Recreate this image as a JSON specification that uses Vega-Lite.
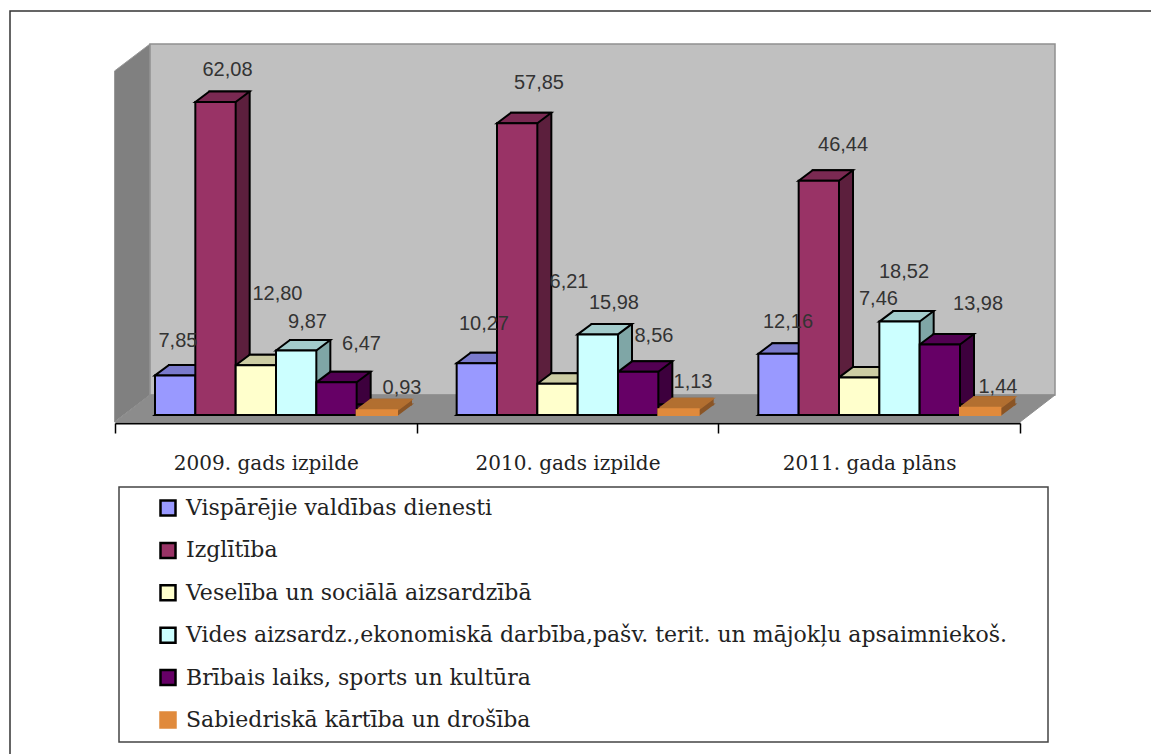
{
"$schema":"https://vega.github.io/schema/vega-lite/v6.json",
"width":905,"height":353,
"autosize":{"type":"none"},
"padding":{"left":115,"top":62,"right":131,"bottom":339},
"background":"white",
"config":{"view":{"stroke":null},"text":{"font":"Liberation Sans","fontSize":20,"color":"#333333","align":"center","baseline":"alphabetic"}},
"datasets":{"bars":[
{"category":"2009. gads izpilde","series":"Vispārējie valdības dienesti","value":7.85,"label":"7,85"},
{"category":"2009. gads izpilde","series":"Izglītība","value":62.08,"label":"62,08"},
{"category":"2009. gads izpilde","series":"Veselība un sociālā aizsardzībā","value":9.87,"label":"9,87"},
{"category":"2009. gads izpilde","series":"Vides aizsardz.,ekonomiskā darbība,pašv. terit. un mājokļu apsaimniekoš.","value":12.80,"label":"12,80"},
{"category":"2009. gads izpilde","series":"Brībais laiks, sports un kultūra","value":6.47,"label":"6,47"},
{"category":"2009. gads izpilde","series":"Sabiedriskā kārtība un drošība","value":0.93,"label":"0,93"},
{"category":"2010. gads izpilde","series":"Vispārējie valdības dienesti","value":10.27,"label":"10,27"},
{"category":"2010. gads izpilde","series":"Izglītība","value":57.85,"label":"57,85"},
{"category":"2010. gads izpilde","series":"Veselība un sociālā aizsardzībā","value":6.21,"label":"6,21"},
{"category":"2010. gads izpilde","series":"Vides aizsardz.,ekonomiskā darbība,pašv. terit. un mājokļu apsaimniekoš.","value":15.98,"label":"15,98"},
{"category":"2010. gads izpilde","series":"Brībais laiks, sports un kultūra","value":8.56,"label":"8,56"},
{"category":"2010. gads izpilde","series":"Sabiedriskā kārtība un drošība","value":1.13,"label":"1,13"},
{"category":"2011. gada plāns","series":"Vispārējie valdības dienesti","value":12.16,"label":"12,16"},
{"category":"2011. gada plāns","series":"Izglītība","value":46.44,"label":"46,44"},
{"category":"2011. gada plāns","series":"Veselība un sociālā aizsardzībā","value":7.46,"label":"7,46"},
{"category":"2011. gada plāns","series":"Vides aizsardz.,ekonomiskā darbība,pašv. terit. un mājokļu apsaimniekoš.","value":18.52,"label":"18,52"},
{"category":"2011. gada plāns","series":"Brībais laiks, sports un kultūra","value":13.98,"label":"13,98"},
{"category":"2011. gada plāns","series":"Sabiedriskā kārtība un drošība","value":1.44,"label":"1,44"}
],"anchor":[{"category":"2010. gads izpilde"}]},
"layer":[
{"data":{"name":"anchor"},
 "encoding":{"x":{"field":"category","type":"nominal","title":null,"scale":{"domain":["2009. gads izpilde","2010. gads izpilde","2011. gada plāns"],"paddingInner":0,"paddingOuter":0},
   "axis":{"offset":8,"tickBand":"extent","domainColor":"#000000","domainWidth":2,"tickColor":"#000000","tickWidth":1.5,"tickSize":10,"labelAngle":0,"labelFont":"DejaVu Serif","labelFontSize":20,"labelColor":"#222222","labelPadding":20,"labelLimit":300,"grid":false}},"y":{"datum":0,"type":"quantitative","axis":null,"scale":{"domain":[0,70],"nice":false}}},
 "layer":[
 {"mark":{"type":"point","size":4,"filled":false,"opacity":1,"stroke":"#333333","strokeWidth":1.5,"shape":"M-557.5,339L-557.5,-404L583.5,-404"}},
 {"mark":{"type":"point","size":4,"filled":true,"opacity":1,"fill":"#808080","stroke":"#999999","strokeWidth":1,"shape":"M-453,-344L-417.5,-371L-417.5,-20L-453,7Z"}},
 {"mark":{"type":"point","size":4,"filled":true,"opacity":1,"fill":"#c0c0c0","stroke":"#909090","strokeWidth":1.5,"shape":"M-417.5,-371L487.5,-371L487.5,-20L-417.5,-20Z"}},
 {"mark":{"type":"point","size":4,"filled":true,"opacity":1,"fill":"#8c8c8c","stroke":"#8c8c8c","strokeWidth":1,"shape":"M-452.5,7L452.5,7L487.5,-20L-417.5,-20Z"}},
 {"mark":{"type":"point","size":4,"filled":true,"opacity":1,"fill":"#ffffff","stroke":"#444444","strokeWidth":1.5,"shape":"M-448.5,72L480.5,72L480.5,327L-448.5,327Z"}}
 ]},
{"data":{"name":"bars"},
 "resolve":{"scale":{"fill":"independent","xOffset":"independent"}},
 "encoding":{
  "x":{"field":"category","type":"nominal","title":null,"scale":{"domain":["2009. gads izpilde","2010. gads izpilde","2011. gada plāns"],"paddingInner":0,"paddingOuter":0},
   "axis":{"offset":8,"tickBand":"extent","domainColor":"#000000","domainWidth":2,"tickColor":"#000000","tickWidth":1.5,"tickSize":10,"labelAngle":0,"labelFont":"DejaVu Serif","labelFontSize":20,"labelColor":"#222222","labelPadding":20,"labelLimit":300,"grid":false}},
  "xOffset":{"field":"series","type":"nominal","scale":{"type":"band","domain":["Vispārējie valdības dienesti","Izglītība","Veselība un sociālā aizsardzībā","Vides aizsardz.,ekonomiskā darbība,pašv. terit. un mājokļu apsaimniekoš.","Brībais laiks, sports un kultūra","Sabiedriskā kārtība un drošība"],"range":[40,282],"paddingInner":0,"paddingOuter":0}},
  "y":{"field":"value","type":"quantitative","axis":null,"scale":{"domain":[0,70],"nice":false}}
 },
 "layer":[
 {"mark":{"type":"bar","yOffset":-10.5,"y2Offset":-10.5,"strokeWidth":2},
  "encoding":{"xOffset":{"field":"series","type":"nominal","scale":{"type":"band","domain":["Vispārējie valdības dienesti","Izglītība","Veselība un sociālā aizsardzībā","Vides aizsardz.,ekonomiskā darbība,pašv. terit. un mājokļu apsaimniekoš.","Brībais laiks, sports un kultūra","Sabiedriskā kārtība un drošība"],"range":[54,296],"paddingInner":0,"paddingOuter":0}},
   "fill":{"field":"series","type":"nominal","legend":null,"scale":{"domain":["Vispārējie valdības dienesti","Izglītība","Veselība un sociālā aizsardzībā","Vides aizsardz.,ekonomiskā darbība,pašv. terit. un mājokļu apsaimniekoš.","Brībais laiks, sports un kultūra","Sabiedriskā kārtība un drošība"],"range":["#5c5c99","#5c1f3d","#99997a","#7fa6a6","#3d003d","#8a5526"]}},
   "stroke":{"condition":{"test":"datum.label=='0,93'||datum.label=='1,13'||datum.label=='1,44'","value":"#8a5526"},"value":"#000000"}}},
 {"mark":{"type":"point","size":4,"filled":true,"opacity":1,"strokeWidth":2,"shape":"M-20.15,0L-6.15,-10.5L34.15,-10.5L20.15,0Z"},
  "encoding":{"y":{"datum":0,"type":"quantitative"},"fill":{"field":"series","type":"nominal","legend":null,"scale":{"domain":["Vispārējie valdības dienesti","Izglītība","Veselība un sociālā aizsardzībā","Vides aizsardz.,ekonomiskā darbība,pašv. terit. un mājokļu apsaimniekoš.","Brībais laiks, sports un kultūra","Sabiedriskā kārtība un drošība"],"range":["#5c5c99","#5c1f3d","#99997a","#7fa6a6","#3d003d","#8a5526"]}},
   "stroke":{"condition":{"test":"datum.label=='0,93'||datum.label=='1,13'||datum.label=='1,44'","value":"#8a5526"},"value":"#000000"}}},
 {"mark":{"type":"point","size":4,"filled":true,"opacity":1,"strokeWidth":2,"shape":"M-20.15,0L-6.15,-10.5L34.15,-10.5L20.15,0Z"},
  "encoding":{"fill":{"field":"series","type":"nominal","legend":null,"scale":{"domain":["Vispārējie valdības dienesti","Izglītība","Veselība un sociālā aizsardzībā","Vides aizsardz.,ekonomiskā darbība,pašv. terit. un mājokļu apsaimniekoš.","Brībais laiks, sports un kultūra","Sabiedriskā kārtība un drošība"],"range":["#7a7acc","#7a2952","#cccca3","#a3cccc","#520052","#b26f30"]}},
   "stroke":{"condition":{"test":"datum.label=='0,93'||datum.label=='1,13'||datum.label=='1,44'","value":"#b26f30"},"value":"#000000"}}},
 {"mark":{"type":"bar","strokeWidth":2},
  "encoding":{"fill":{"field":"series","type":"nominal","scale":{"domain":["Vispārējie valdības dienesti","Izglītība","Veselība un sociālā aizsardzībā","Vides aizsardz.,ekonomiskā darbība,pašv. terit. un mājokļu apsaimniekoš.","Brībais laiks, sports un kultūra","Sabiedriskā kārtība un drošība"],"range":["#9999ff","#993366","#ffffcc","#ccffff","#660066","#e08a3c"]},
   "legend":{"title":null,"orient":"none","legendX":42,"legendY":435,"padding":0,"symbolType":"square","symbolSize":225,"symbolStrokeWidth":2.5,"symbolStrokeColor":"#000000","labelFont":"DejaVu Serif","labelFontSize":22,"labelColor":"#222222","labelLimit":1000,"labelOffset":7,"rowPadding":16.4,
    "encode":{"symbols":{"update":{"stroke":{"signal":"datum.label=='Sabiedriskā kārtība un drošība'?'#e08a3c':'#000000'"},"opacity":{"value":1}}}}}},
   "stroke":{"condition":{"test":"datum.label=='0,93'||datum.label=='1,13'||datum.label=='1,44'","value":"#e08a3c"},"value":"#000000"}}},
 {"encoding":{"text":{"field":"label"}},
  "layer":[
  {"transform":[{"filter":"datum.label=='7,85'"}],"mark":{"type":"text","dx":2.8,"dy":-28.4}},
  {"transform":[{"filter":"datum.label=='62,08'"}],"mark":{"type":"text","dx":12,"dy":-25.9}},
  {"transform":[{"filter":"datum.label=='9,87'"}],"mark":{"type":"text","dx":51.7,"dy":-37.2}},
  {"transform":[{"filter":"datum.label=='12,80'"}],"mark":{"type":"text","dx":-18.7,"dy":-50.4}},
  {"transform":[{"filter":"datum.label=='6,47'"}],"mark":{"type":"text","dx":25,"dy":-32.4}},
  {"transform":[{"filter":"datum.label=='0,93'"}],"mark":{"type":"text","dx":25.2,"dy":-16.3}},
  {"transform":[{"filter":"datum.label=='10,27'"}],"mark":{"type":"text","dx":7.1,"dy":-33.2}},
  {"transform":[{"filter":"datum.label=='57,85'"}],"mark":{"type":"text","dx":21.8,"dy":-34.3}},
  {"transform":[{"filter":"datum.label=='6,21'"}],"mark":{"type":"text","dx":11.5,"dy":-95.7}},
  {"transform":[{"filter":"datum.label=='15,98'"}],"mark":{"type":"text","dx":16.1,"dy":-25.4}},
  {"transform":[{"filter":"datum.label=='8,56'"}],"mark":{"type":"text","dx":15.8,"dy":-29.8}},
  {"transform":[{"filter":"datum.label=='1,13'"}],"mark":{"type":"text","dx":14.5,"dy":-21.3}},
  {"transform":[{"filter":"datum.label=='12,16'"}],"mark":{"type":"text","dx":9.5,"dy":-25.7}},
  {"transform":[{"filter":"datum.label=='46,44'"}],"mark":{"type":"text","dx":24.2,"dy":-29.8}},
  {"transform":[{"filter":"datum.label=='7,46'"}],"mark":{"type":"text","dx":19.3,"dy":-72.4}},
  {"transform":[{"filter":"datum.label=='18,52'"}],"mark":{"type":"text","dx":4.5,"dy":-43.6}},
  {"transform":[{"filter":"datum.label=='13,98'"}],"mark":{"type":"text","dx":38.2,"dy":-34.5}},
  {"transform":[{"filter":"datum.label=='1,44'"}],"mark":{"type":"text","dx":17.8,"dy":-14.7}}
  ]}
 ]}
]
}
